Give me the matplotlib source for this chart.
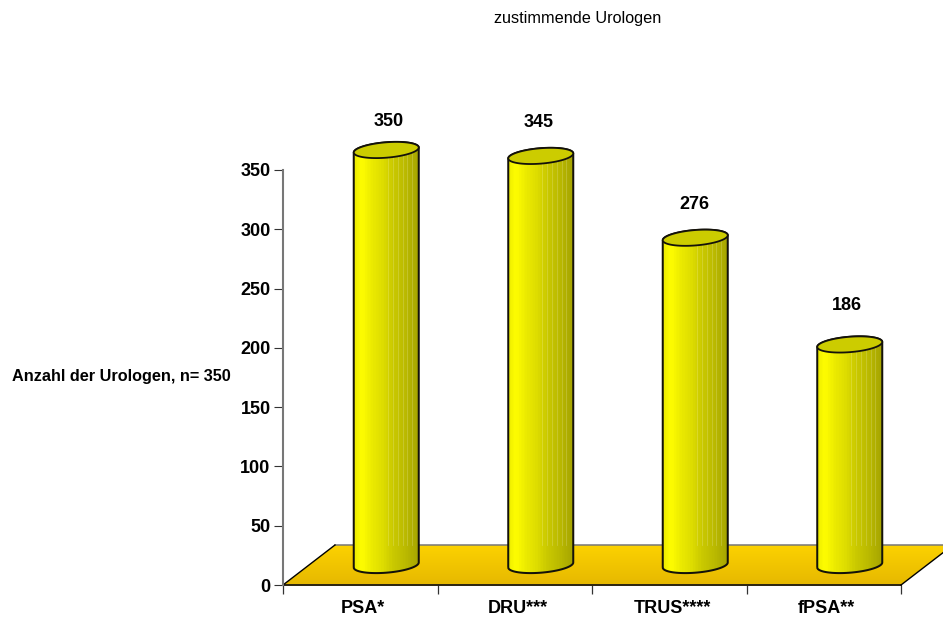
import numpy as np
import matplotlib
matplotlib.use("Agg")
import matplotlib.pyplot as plt
from matplotlib.patches import PathPatch, Polygon
from matplotlib.path import Path

plt.rcParams['font.family'] = ['Liberation Sans', 'DejaVu Sans']

categories = ['PSA*', 'DRU***', 'TRUS****', 'fPSA**']
values = [350, 345, 276, 186]
y_ticks = [0, 50, 100, 150, 200, 250, 300, 350]

# pixel scale of the plot area
W, H = 943, 617
PX_X = 154.5
PX_Y = 415 / 350

# floor depth, in axis units
DEPTH_X = 52 / PX_X
DEPTH_Y = 40 / PX_Y
HALF_W = 32.5 / PX_X
ELL_B = 7.7 / PX_Y
ELL_TILT = 2.5 / PX_Y

# label nudges in pixels (dx, height above the cylinder top)
label_dx = [2, -2, -1, -3]
label_up = [28, 33, 33, 39]

fig = plt.figure(figsize=(W / 100, H / 100), dpi=100)
ax = fig.add_axes([283 / W, (H - 585) / H, 618 / W, 415 / H])


def ellipse(cx, cy, t):
    return cx + HALF_W * np.cos(t), cy + ELL_B * np.sin(t) + ELL_TILT * np.cos(t)


def clipped_image(img, extent, path, z):
    im = ax.imshow(img, extent=extent, aspect='auto', zorder=z, interpolation='bilinear')
    patch = PathPatch(path, transform=ax.transData, fc='none', ec='none')
    im.set_clip_box(fig.bbox)
    im.set_clip_path(patch)
    return im


# floor: parallelogram with a vertical gold gradient
floor_pts = [(0, 0), (4, 0), (4 + DEPTH_X, DEPTH_Y), (DEPTH_X, DEPTH_Y), (0, 0)]
ramp = np.linspace(0, 1, 64)[:, None]
floor_img = np.dstack([
    (252 - 22 * ramp) / 255,
    (210 - 26 * ramp) / 255,
    0 * ramp,
])
clipped_image(floor_img, (0, 4 + DEPTH_X, 0, DEPTH_Y), Path(floor_pts), 1)
ax.plot([DEPTH_X, 4 + DEPTH_X], [DEPTH_Y, DEPTH_Y], color='#777777', lw=1.1, zorder=2, clip_on=False)
ax.plot([0, 4], [0, 0], color='#2a2410', lw=1.4, zorder=2, clip_on=False)
ax.plot([0, DEPTH_X], [0, DEPTH_Y], color='black', lw=1.0, zorder=2, clip_on=False)
ax.plot([4, 4 + DEPTH_X], [0, DEPTH_Y], color='black', lw=1.0, zorder=2, clip_on=False)

# banded shading across a cylinder
stops = [0, 0.1, 0.25, 0.42, 0.58, 0.78, 1.0]
shade = [240, 255, 236, 222, 202, 186, 164]
steps = np.floor(np.linspace(0, 0.999, 130) * 24) / 24
r = np.interp(steps, stops, shade) / 255
body_img = np.dstack([r, r * 0.995, 0 * r])

base = DEPTH_Y / 2
t_front = np.linspace(np.pi, 2 * np.pi, 50)
t_back = np.linspace(0, np.pi, 50)
t_full = np.linspace(0, 2 * np.pi, 100)

for i, v in enumerate(values):
    cx = i + 0.5 + DEPTH_X / 2
    top = v + base

    bx, by = ellipse(cx, base, t_front)
    tx, ty = ellipse(cx, top, t_back)
    outline = np.column_stack([np.r_[bx, tx], np.r_[by, ty]])
    outline = np.vstack([outline, outline[0]])
    clipped_image(body_img, (cx - HALF_W, cx + HALF_W, base - 3 * ELL_B, top + 3 * ELL_B), Path(outline), 3)

    # faint highlights on the shaded half of the cylinder, above the floor line
    for f in [0.52, 0.6, 0.68, 0.75, 0.82, 0.89]:
        lx = cx - HALF_W + 2 * HALF_W * f
        ax.plot([lx, lx], [DEPTH_Y, top - 2], color='white', lw=0.6, alpha=0.2, zorder=3.5, clip_on=False)

    ax.add_patch(PathPatch(Path(outline), fc='none', ec='#14120a', lw=1.45, zorder=4, clip_on=False))
    ex, ey = ellipse(cx, top, t_full)
    ax.add_patch(Polygon(np.column_stack([ex, ey]), closed=True, fc='#cccc00', ec='#14120a', lw=1.3, zorder=5, clip_on=False))

    ax.annotate(str(v), xy=(cx, top), xytext=(label_dx[i] * 0.72, label_up[i] * 0.72), textcoords='offset points',
                ha='center', va='center', fontsize=13, fontweight='bold', color='black', zorder=6,
                annotation_clip=False)

ax.set_xlim(0, 4)
ax.set_ylim(0, 350)

for s in ['top', 'right', 'bottom']:
    ax.spines[s].set_visible(False)
ax.spines['left'].set_color('#777777')
ax.spines['left'].set_linewidth(1.5)
ax.spines['left'].set_bounds(0, 350)
ax.patch.set_visible(False)

ax.set_yticks(y_ticks)
ax.set_yticklabels([str(t) for t in y_ticks], fontsize=13, fontweight='bold')
ax.tick_params(axis='y', length=6.5, width=0.8, color='#333333', pad=2.5)

ax.set_xticks(range(5))
ax.set_xticklabels([])
ax.tick_params(axis='x', length=6.5, width=0.9, color='#333333')
# category labels sit a little right of the cell centres
ax.set_xticks(np.arange(4) + 0.5 + 3 / PX_X, minor=True)
ax.set_xticklabels(categories, minor=True, fontsize=13, fontweight='bold')
ax.tick_params(axis='x', which='minor', length=0, pad=11)

fig.text(578 / W, 1 - 18 / H, 'zustimmende Urologen', ha='center', va='center', fontsize=11.7)
fig.text(12 / W, 1 - 377 / H, 'Anzahl der Urologen, n= 350', ha='left', va='center', fontsize=11.7, fontweight='bold')

fig.savefig('out.png', dpi=100)
